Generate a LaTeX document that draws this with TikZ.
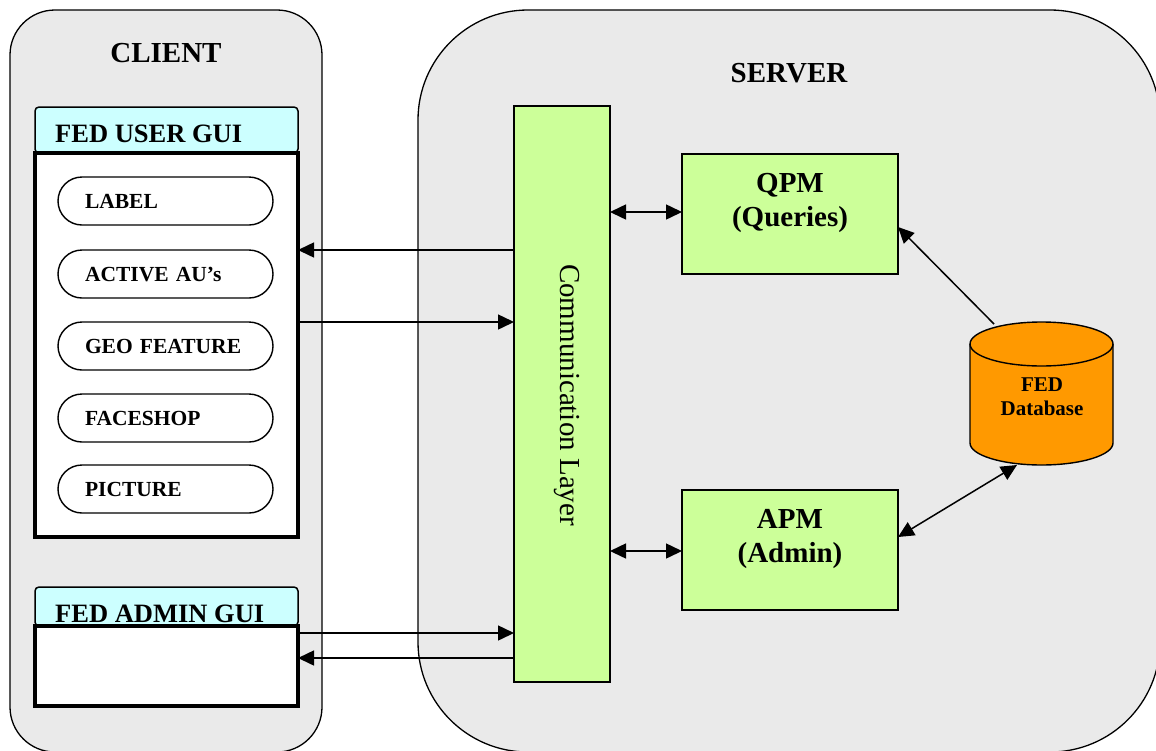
\documentclass[tikz,border=0pt]{standalone}
\usepackage{fontspec}
\setmainfont{Liberation Serif}
\usetikzlibrary{arrows.meta}
\definecolor{bggrey}{HTML}{EAEAEA}
\definecolor{guicyan}{HTML}{CCFFFF}
\definecolor{boxgreen}{HTML}{CCFF99}
\definecolor{dborange}{HTML}{FF9900}
\begin{document}
\begin{tikzpicture}[x=1pt,y=-1pt,
  panel/.style={draw=black, line width=1.3pt, fill=bggrey, inner sep=0pt, outer sep=0pt},
  header/.style={draw=black, line width=1.5pt, fill=guicyan, rounded corners=4pt, inner sep=0pt, outer sep=0pt, minimum width=263pt},
  guibox/.style={draw=black, line width=3.5pt, fill=white, inner sep=0pt, outer sep=0pt, minimum width=263pt},
  pill/.style={draw=black, line width=1.4pt, fill=white, rounded corners=24pt, minimum width=215pt, minimum height=48pt, text width=161pt, inner xsep=27pt, inner ysep=0pt, outer sep=0pt, align=left, text height=14pt, text depth=0pt, font=\fontsize{21.5}{24}\selectfont\bfseries},
  module/.style={draw=black, line width=2.2pt, fill=boxgreen, inner sep=0pt, outer sep=0pt},
  title/.style={font=\fontsize{29}{34}\selectfont\bfseries, inner sep=0pt, anchor=base},
  guititle/.style={font=\fontsize{26.5}{30}\selectfont\bfseries, inner sep=0pt, anchor=base west},
  dbtext/.style={font=\fontsize{21}{24}\selectfont\bfseries, inner sep=0pt, anchor=base},
  arr/.style={line width=1.5pt, -{Triangle[length=16pt,width=15pt]}},
  darr/.style={line width=1.5pt, {Triangle[length=16pt,width=15pt]}-{Triangle[length=16pt,width=15pt]}},
]
\useasboundingbox (0,0) rectangle (1156,750);
\fill[white] (0,0) rectangle (1156,750);

% panels
\node[panel, rounded corners=45pt, minimum width=312pt, minimum height=742pt] (client) at (166,381) {};
\node[panel, rounded corners=110pt, minimum width=742pt, minimum height=742pt] (server) at (789,381) {};
\node[title] (clienttitle) at (166,62) {CLIENT};
\node[title] (servertitle) at (789,82) {SERVER};

% user GUI
\node[header, minimum height=46pt] (userhead) at (166.5,130) {};
\node[guibox, minimum height=384pt] (userbox) at (166.5,345) {};
\node[guititle] (usertitle) at (55,142) {FED USER GUI};
\node[pill] (plabel) at (165.5,201) {LABEL};
\node[pill] (pactive) at (165.5,274) {ACTIVE AU’s};
\node[pill] (pgeo) at (165.5,346) {GEO FEATURE};
\node[pill] (pface) at (165.5,418) {FACESHOP};
\node[pill] (ppicture) at (165.5,489) {PICTURE};

% admin GUI
\node[header, minimum height=39pt] (adminhead) at (166.5,606.5) {};
\node[guibox, minimum height=80pt] (adminbox) at (166.5,666) {};
\node[guititle] (admintitle) at (55,622) {FED ADMIN GUI};

% communication layer
\node[module, minimum width=96pt, minimum height=576pt] (comm) at (562,394) {};
\node[font=\fontsize{29}{34}\selectfont, rotate=-90, inner sep=0pt] (commtext) at (567,395) {Communication Layer};

% modules
\node[module, minimum width=216pt, minimum height=120pt] (qpm) at (790,214) {};
\node[title] (qpmtitle) at (790,192) {QPM};
\node[title] (qpmsub) at (790,226) {(Queries)};
\node[module, minimum width=216pt, minimum height=120pt] (apm) at (790,550) {};
\node[title] (apmtitle) at (790,528) {APM};
\node[title] (apmsub) at (790,562) {(Admin)};

% database
\node[inner sep=0pt, outer sep=0pt, minimum width=143pt, minimum height=143pt] (db) at (1041.5,393.5) {};
\filldraw[draw=black, line width=1.4pt, fill=dborange]
  (db.west |- 0,344) -- (db.west |- 0,443)
  arc[start angle=180, end angle=0, x radius=71.5, y radius=22]
  -- (db.east |- 0,344)
  arc[start angle=0, end angle=-180, x radius=71.5, y radius=22] -- cycle;
\draw[line width=1.4pt] (db.west |- 0,344) arc[start angle=180, end angle=0, x radius=71.5, y radius=22];
\node[dbtext] (dbtext1) at (1042,391) {FED};
\node[dbtext] (dbtext2) at (1042,415) {Database};
\coordinate (dbtop) at (994,324);
\coordinate (dbbot) at (1017,465);

% connectors
\draw[arr] (comm.west |- 0,250) -- (userbox.east |- 0,250);
\draw[arr] (userbox.east |- 0,322) -- (comm.west |- 0,322);
\draw[arr] (adminbox.east |- 0,633) -- (comm.west |- 0,633);
\draw[arr] (comm.west |- 0,658) -- (adminbox.east |- 0,658);
\draw[darr] (comm.east |- 0,212) -- (qpm.west |- 0,212);
\draw[darr] (comm.east |- 0,551) -- (apm.west |- 0,551);
\draw[arr] (dbtop) -- (qpm.east |- 0,227);
\draw[darr] (apm.east |- 0,537) -- (dbbot);
\end{tikzpicture}
\end{document}
